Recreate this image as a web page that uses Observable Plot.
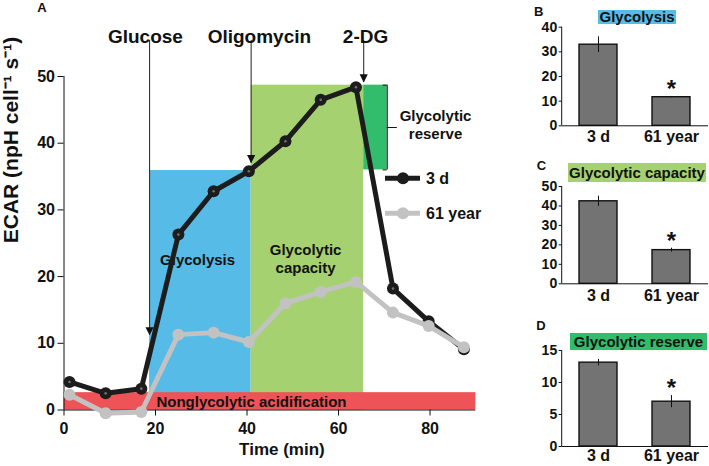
<!DOCTYPE html>
<html><head><meta charset="utf-8">
<script src="https://cdn.jsdelivr.net/npm/d3@7"></script>
<script src="https://cdn.jsdelivr.net/npm/@observablehq/plot@0.6"></script>
<style>
body{margin:0;background:#fff;}
#wrap{position:relative;width:709px;height:466px;overflow:hidden;font-family:"Liberation Sans",Arial,sans-serif;font-weight:bold;color:#111;}
#wrap svg{position:absolute;overflow:visible;}
.letter{position:absolute;font-size:13px;line-height:1;transform:translate(-50%,-50%);}
.tbox{position:absolute;font-size:15px;line-height:1;display:flex;align-items:center;justify-content:center;white-space:nowrap;}
</style></head><body><div id="wrap"></div>
<script>
// ---- main panel data ----
const time = [1.2, 9.1, 16.9, 25.0, 32.7, 40.4, 48.4, 56.1, 63.8, 71.9, 79.7, 87.4];
const ecar3d = [4.2, 2.5, 3.2, 26.3, 32.8, 35.8, 40.3, 46.5, 48.4, 18.2, 13.3, 9.1];
const ecar61y = [2.3, -0.5, -0.3, 11.3, 11.6, 10.2, 16.0, 17.7, 19.2, 14.6, 12.6, 9.4];
const seriesNames = ["3 d", "61 year"];
const seriesColors = ["#1c1c1c", "#c2c2c2"];
const injectionNames = ["Glucose", "Oligomycin", "2-DG"];
const injectionTimes = [18.7, 40.9, 65.5];
const injectionTips = [11.2, 37.0, 49.1];
const injectionLabelX = [17.8, 42.7, 65.9];
const arrowTopValue = 55.4;
const phaseNames = ["Glycolysis", "Glycolytic capacity", "Glycolytic reserve", "Nonglycolytic acidification"];
const phaseLabels = ["Glycolysis", "Glycolytic\ncapacity", "Glycolytic\nreserve", "Nonglycolytic acidification"];
const phaseStart = [18.7, 40.9, 65.5, 0];
const phaseEnd = [40.9, 65.5, 70.65, 90];
const phaseLow = [0, 0, 36.0, 0];
const phaseHigh = [35.9, 48.7, 48.7, 2.6];
const phaseColors = ["#56bbe7", "#a6d170", "#31bd6b", "#ee5357"];
const phaseLabelX = [29.2, 52.8, 81.2, 20.2];
const phaseLabelY = [22.6, 22.7, 42.9, 1.3];
const phaseLabelAnchor = ["middle", "middle", "middle", "start"];
const xTicks = [0, 20, 40, 60, 80];
const yTicks = [0, 10, 20, 30, 40, 50];

// ---- bar panel data ----
const groups = ["3 d", "61 year"];
const glycolysisMean = [32.9, 11.6], glycolysisErr = [3.2, 0.3];
const capacityMean = [42.4, 17.3], capacityErr = [2.6, 1.0];
const reserveMean = [13.1, 7.0], reserveErr = [0.5, 0.95];
const glycolysisTicks = [0, 10, 20, 30, 40];
const capacityTicks = [0, 10, 20, 30, 40, 50];
const reserveTicks = [0, 5, 10, 15];

const wrap = document.getElementById("wrap");
const FONT = "Liberation Sans, Arial, sans-serif";

const series3d = time.map((t, i) => ({t, v: ecar3d[i]}));
const series61 = time.map((t, i) => ({t, v: ecar61y[i]}));
const injections = injectionNames.map((name, i) => ({name, t: injectionTimes[i], tip: injectionTips[i], lx: injectionLabelX[i]}));
const phases = phaseNames.map((name, i) => ({name, label: phaseLabels[i], x1: phaseStart[i], x2: phaseEnd[i], y1: phaseLow[i], y2: phaseHigh[i], color: phaseColors[i], lx: phaseLabelX[i], ly: phaseLabelY[i], anchor: phaseLabelAnchor[i]}));
const reserve = phases[2];

const downTriangle = {
  draw(ctx, size) {
    const s = Math.sqrt(size);
    ctx.moveTo(-s / 2, -s);
    ctx.lineTo(s / 2, -s);
    ctx.lineTo(0, 0);
    ctx.closePath();
  }
};

const main = Plot.plot({
  width: 490, height: 466,
  marginLeft: 63.5, marginRight: 14.7, marginTop: 76, marginBottom: 56.5,
  x: {domain: [0, 90]},
  y: {domain: [0, 50]},
  style: {fontFamily: FONT, fontWeight: "bold", background: "transparent", color: "#111"},
  marks: [
    ...phases.map(p => Plot.rect([p], {x1: "x1", x2: "x2", y1: "y1", y2: "y2", fill: p.color})),
    Plot.ruleX([reserve], {x: "x2", y1: "y1", y2: "y2", stroke: "#111", strokeWidth: 1}),
    Plot.ruleY([reserve.y1, reserve.y2], {x1: reserve.x2 - 0.9, x2: reserve.x2, y: d => d, stroke: "#111", strokeWidth: 1}),
    Plot.ruleY([(reserve.y1 + reserve.y2) / 2], {x1: reserve.x2, x2: reserve.x2 + 2.2, y: d => d, stroke: "#111", strokeWidth: 1}),
    Plot.ruleX(injections, {x: "t", y1: () => arrowTopValue, y2: "tip", stroke: "#333", strokeWidth: 1.1}),
    Plot.dot(injections, {x: "t", y: "tip", symbol: downTriangle, r: 4.6, fill: "#111", stroke: "none"}),
    ...["middle", "start"].map(a => Plot.text(phases.filter(p => p.anchor === a), {x: "lx", y: "ly", text: "label", textAnchor: a, fontSize: 15, lineHeight: 1.2, fill: "#111"})),
    Plot.text(injections, {x: "lx", text: "name", frameAnchor: "top", dy: -47, fontSize: 19, fill: "#111"}),
    Plot.ruleX([0], {y1: 0, y2: 50, stroke: "#111"}),
    Plot.ruleY([0], {x1: 0, x2: 90, stroke: "#111"}),
    Plot.axisX({ticks: xTicks, tickSize: 6, tickPadding: 7, fontSize: 16, label: null, stroke: "#111"}),
    Plot.axisY({ticks: yTicks, tickSize: 6, tickPadding: 3, fontSize: 16, label: null, stroke: "#111"}),
    Plot.line(series3d, {x: "t", y: "v", stroke: seriesColors[0], strokeWidth: 5}),
    Plot.dot(series3d, {x: "t", y: "v", r: 6, fill: seriesColors[0], stroke: "none"}),
    Plot.dot(series3d, {x: "t", y: "v", r: 1.3, fill: "#707070", stroke: "none"}),
    Plot.line(series61, {x: "t", y: "v", stroke: seriesColors[1], strokeWidth: 5}),
    Plot.dot(series61, {x: "t", y: "v", r: 6, fill: seriesColors[1], stroke: "none"}),
    Plot.text(["ECAR (npH cell⁻¹ s⁻¹)"], {text: d => d, frameAnchor: "left", rotate: -90, dx: -53, fontSize: 21, fill: "#111"}),
    Plot.text(["Time (min)"], {text: d => d, frameAnchor: "bottom", dx: 12, dy: 45, fontSize: 17, fill: "#111"})
  ]
});
main.style.left = "0px"; main.style.top = "0px";
wrap.appendChild(main);

// legend
const leg = d3.create("svg").attr("width", 110).attr("height", 60)
  .style("left", "380px").style("top", "165px");
seriesNames.forEach((name, i) => {
  const y = 13.3 + i * 35;
  leg.append("line").attr("x1", 5).attr("x2", 40).attr("y1", y).attr("y2", y)
    .attr("stroke", seriesColors[i]).attr("stroke-width", 5);
  leg.append("circle").attr("cx", 23).attr("cy", y).attr("r", 6).attr("fill", seriesColors[i]);
  leg.append("text").attr("x", 46).attr("y", y).attr("dy", "0.35em")
    .attr("font-family", FONT).attr("font-weight", "bold").attr("font-size", 16)
    .attr("fill", "#111").text(name);
});
wrap.appendChild(leg.node());

// bar panels
function barPanel({means, errs, ticks, top, height, mt, mb, labelPad}) {
  const rows = groups.map((g, i) => ({g, m: means[i], e: errs[i]}));
  const yMax = ticks[ticks.length - 1];
  const axisLine = (index, scales, values, dims) => {
    return d3.create("svg:line")
      .attr("x1", dims.marginLeft).attr("x2", dims.marginLeft)
      .attr("y1", scales.y(0)).attr("y2", scales.y(yMax))
      .attr("stroke", "#111").node();
  };
  const p = Plot.plot({
    width: 179, height,
    marginLeft: 31.7, marginRight: 1, marginTop: mt, marginBottom: mb,
    x: {domain: groups, paddingInner: 0.48, paddingOuter: 0.24},
    y: {domain: [0, yMax]},
    style: {fontFamily: FONT, fontWeight: "bold", background: "transparent", color: "#111"},
    marks: [
      Plot.barY(rows, {x: "g", y: "m", fill: "#737373", stroke: "#111", strokeWidth: 1.4}),
      Plot.ruleX(rows, {x: "g", y1: d => d.m - d.e, y2: d => d.m + d.e, stroke: "#111", strokeWidth: 1}),
      Plot.text(rows.slice(1), {x: "g", y: d => d.m + d.e, text: () => "*", dy: -7, fontSize: 24, fill: "#111"}),
      Plot.ruleY([0], {stroke: "#111"}),
      axisLine,
      Plot.axisY({ticks, tickSize: 3, tickPadding: 2, fontSize: 14, label: null, stroke: "#111"}),
      Plot.axisX({tickSize: 0, tickPadding: labelPad, fontSize: 16, label: null})
    ]
  });
  p.style.left = "530px"; p.style.top = top + "px";
  wrap.appendChild(p);
}
barPanel({means: glycolysisMean, errs: glycolysisErr, ticks: glycolysisTicks, top: 0, height: 150, mt: 26.7, mb: 24.7, labelPad: 5});
barPanel({means: capacityMean, errs: capacityErr, ticks: capacityTicks, top: 150, height: 150, mt: 36, mb: 16.7, labelPad: 6});
barPanel({means: reserveMean, errs: reserveErr, ticks: reserveTicks, top: 300, height: 166, mt: 50, mb: 20, labelPad: 3});

// panel letters and titles
[["A", 42, 7], ["B", 538.7, 11], ["C", 541.5, 165], ["D", 541, 325]].forEach(([t, x, y]) => {
  const d = document.createElement("div");
  d.className = "letter"; d.textContent = t;
  d.style.left = x + "px"; d.style.top = y + "px";
  wrap.appendChild(d);
});
[[phaseNames[0], phaseColors[0], 598, 9.5, 78, 14], [phaseNames[1], phaseColors[1], 568, 163, 138, 19], [phaseNames[2], phaseColors[2], 570, 333, 137, 17]].forEach(([t, c, x, y, w, h]) => {
  const d = document.createElement("div");
  d.className = "tbox"; d.textContent = t;
  Object.assign(d.style, {left: x + "px", top: y + "px", width: w + "px", height: h + "px", background: c});
  wrap.appendChild(d);
});
</script></body></html>
